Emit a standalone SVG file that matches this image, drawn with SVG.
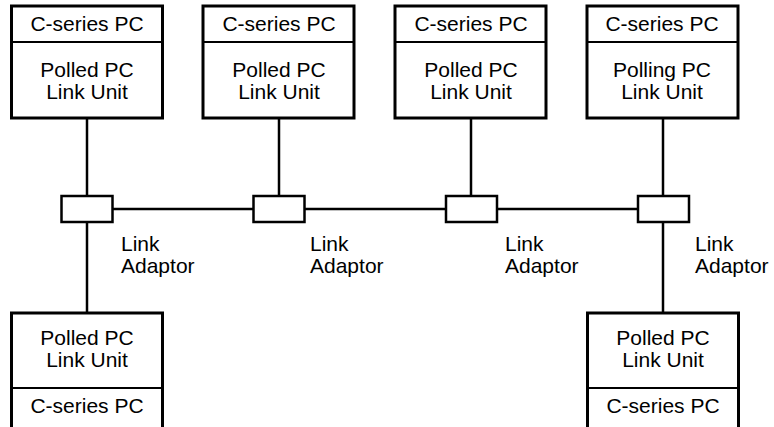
<svg xmlns="http://www.w3.org/2000/svg" width="774" height="427" viewBox="0 0 774 427">
<style>
.box{fill:#fff;stroke:#000;stroke-width:3}
.div{stroke:#000;stroke-width:2}
.ad{fill:#fff;stroke:#000;stroke-width:2.5}
.ln{stroke:#000;stroke-width:2.5;fill:none}
text{font-family:"Liberation Sans",Arial,sans-serif;font-size:21px;fill:#000}
.c{text-anchor:middle}
</style>
<rect width="774" height="427" fill="#fff"/>
<g id="connectors">
<line class="ln" x1="87" y1="118" x2="87" y2="313"/>
<line class="ln" x1="279" y1="118" x2="279" y2="196"/>
<line class="ln" x1="471" y1="118" x2="471" y2="196"/>
<line class="ln" x1="663" y1="118" x2="663" y2="313"/>
<line class="ln" x1="113" y1="209" x2="253" y2="209"/>
<line class="ln" x1="305" y1="209" x2="446" y2="209"/>
<line class="ln" x1="498" y1="209" x2="638" y2="209"/>
</g>
<g id="pc1">
<rect class="box" x="11.5" y="6" width="151" height="112"/>
<line class="div" x1="11.5" y1="42" x2="162.5" y2="42"/>
<text class="c" x="87" y="31">C-series PC</text>
<text class="c" x="87" y="77">Polled PC</text>
<text class="c" x="87" y="99">Link Unit</text>
</g>
<g id="pc2">
<rect class="box" x="203" y="6" width="151" height="112"/>
<line class="div" x1="203" y1="42" x2="354" y2="42"/>
<text class="c" x="279" y="31">C-series PC</text>
<text class="c" x="279" y="77">Polled PC</text>
<text class="c" x="279" y="99">Link Unit</text>
</g>
<g id="pc3">
<rect class="box" x="395" y="6" width="151" height="112"/>
<line class="div" x1="395" y1="42" x2="546" y2="42"/>
<text class="c" x="471" y="31">C-series PC</text>
<text class="c" x="471" y="77">Polled PC</text>
<text class="c" x="471" y="99">Link Unit</text>
</g>
<g id="pc4">
<rect class="box" x="587" y="6" width="151" height="112"/>
<line class="div" x1="587" y1="42" x2="738" y2="42"/>
<text class="c" x="662" y="31">C-series PC</text>
<text class="c" x="662" y="77">Polling PC</text>
<text class="c" x="662" y="99">Link Unit</text>
</g>
<g id="pc5">
<rect class="box" x="11.5" y="313" width="151" height="130"/>
<line class="div" x1="11.5" y1="388" x2="162.5" y2="388"/>
<text class="c" x="87" y="345">Polled PC</text>
<text class="c" x="87" y="367">Link Unit</text>
<text class="c" x="87" y="413">C-series PC</text>
</g>
<g id="pc6">
<rect class="box" x="587.5" y="313" width="151" height="130"/>
<line class="div" x1="587.5" y1="388" x2="738.5" y2="388"/>
<text class="c" x="663" y="345">Polled PC</text>
<text class="c" x="663" y="367">Link Unit</text>
<text class="c" x="663" y="413">C-series PC</text>
</g>
<g id="adaptor1">
<rect class="ad" x="61.5" y="196" width="51" height="26"/>
<text x="121" y="251">Link</text>
<text x="121" y="273">Adaptor</text>
</g>
<g id="adaptor2">
<rect class="ad" x="253.5" y="196" width="51" height="26"/>
<text x="310" y="251">Link</text>
<text x="310" y="273">Adaptor</text>
</g>
<g id="adaptor3">
<rect class="ad" x="446" y="196" width="51" height="26"/>
<text x="505" y="251">Link</text>
<text x="505" y="273">Adaptor</text>
</g>
<g id="adaptor4">
<rect class="ad" x="638" y="196" width="51" height="26"/>
<text x="695" y="251">Link</text>
<text x="695" y="273">Adaptor</text>
</g>
</svg>
